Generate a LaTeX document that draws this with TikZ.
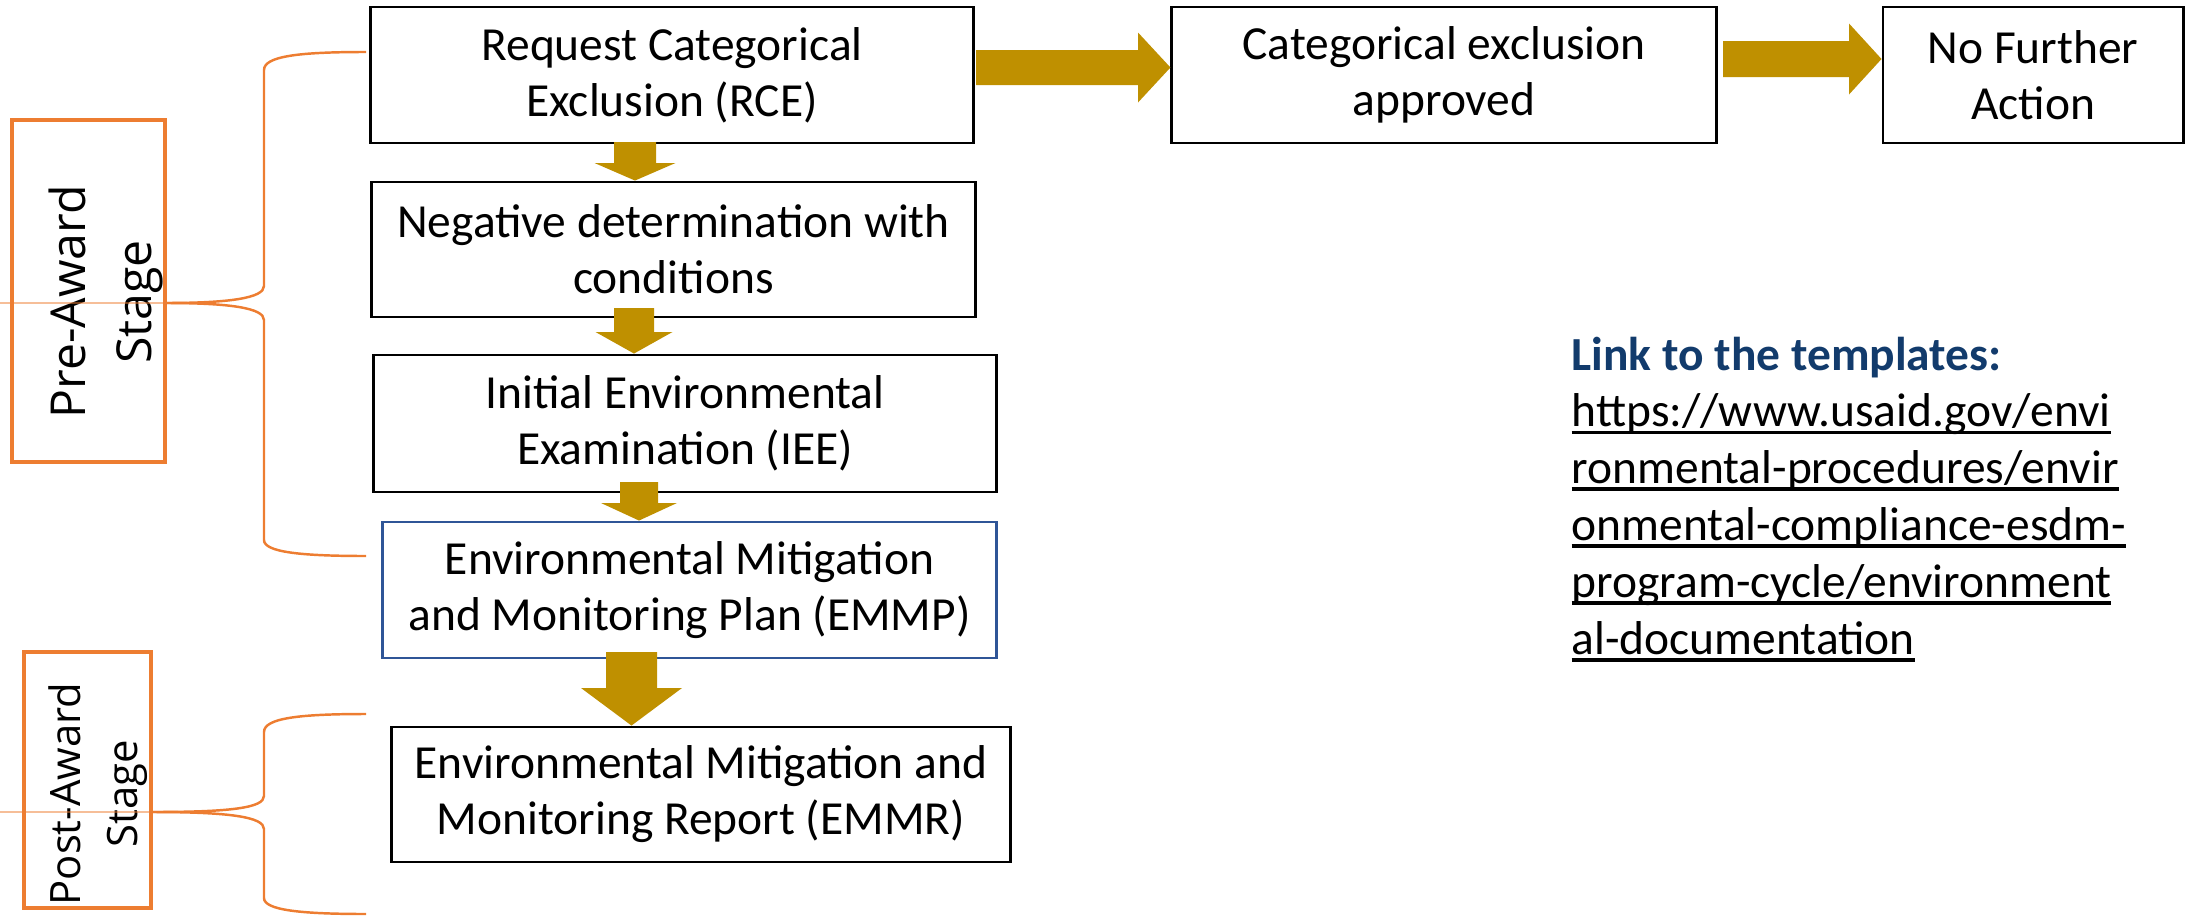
\documentclass[tikz,border=0pt]{standalone}
\usepackage{fontspec}
\setmainfont{Carlito}
\newfontfamily\stagefont{Open Sans}
\usetikzlibrary{calc}
\definecolor{gold}{HTML}{BF9000}
\definecolor{orng}{HTML}{ED7D31}
\definecolor{emblue}{HTML}{2F5597}
\definecolor{linkblue}{HTML}{123B6C}
\newcommand\ulink[1]{\setbox0=\hbox{#1}\rlap{\rule[-2.1pt]{\wd0}{1.1pt}}\box0}
% vertical block arrow: x centre, shaft half, head half, y top, y head start, target node
\newcommand\vblock[6]{\fill[gold] (#1-#2,#4) -- (#1+#2,#4) -- (#1+#2,#5) -- (#1+#3,#5) -- (#1,0 |- #6.north) -- (#1-#3,#5) -- (#1-#2,#5) -- cycle;}
% horizontal block arrow: y centre, shaft half, head half, x start, x head start, target node
\newcommand\hblock[6]{\fill[gold] (#4,#1-#2) -- (#5,#1-#2) -- (#5,#1-#3) -- (#6.west |- 0,#1) -- (#5,#1+#3) -- (#5,#1+#2) -- (#4,#1+#2) -- cycle;}
\begin{document}
\begin{tikzpicture}[x=0.01cm,y=-0.01cm,
  box/.style={draw=black, line width=0.8pt, fill=white, align=center, inner sep=0pt,
    font=\fontsize{13.5}{15.9}\selectfont},
  stagebox/.style={draw=orng, line width=1.2pt, inner sep=0pt},
  brace/.style={draw=orng, line width=0.7pt},
  stagetext/.style={rotate=90, align=center, inner sep=0pt}]
\useasboundingbox (0,0) rectangle (2188,915);

% process boxes
\node[box, minimum width=6.02cm, minimum height=1.36cm] (rce) at (672,75) {Request Categorical\\Exclusion (RCE)};
\node[box, minimum width=6.03cm, minimum height=1.35cm] (neg) at (673.5,249.5) {Negative determination with\\conditions};
\node[box, minimum width=6.22cm, minimum height=1.37cm] (iee) at (685,423.5) {Initial Environmental\\Examination (IEE)};
\node[box, draw=emblue, minimum width=6.13cm, minimum height=1.36cm] (emmp) at (689.5,590) {Environmental Mitigation\\and Monitoring Plan (EMMP)};
\node[box, minimum width=6.18cm, minimum height=1.35cm] (emmr) at (701,794.5) {Environmental Mitigation and\\Monitoring Report (EMMR)};
\node[box, minimum width=5.44cm, minimum height=1.36cm] (cat) at (1444,75) {Categorical exclusion\\approved};
\node[box, minimum width=3.00cm, minimum height=1.36cm] (nfa) at (2033,75) {No Further\\Action};

% block arrows
\vblock{635}{21}{40.5}{142}{163}{neg}
\vblock{634}{20}{38.5}{308}{332}{iee}
\vblock{639}{19}{38}{482}{503}{emmp}
\vblock{631.5}{25.5}{50.5}{652}{688}{emmr}
\hblock{67.5}{17.5}{35}{976}{1138}{cat}
\hblock{59}{18}{35.5}{1723}{1849}{nfa}

% stage boxes
\node[stagebox, minimum width=1.53cm, minimum height=3.42cm] (prebox) at (88.5,291) {};
\node[stagebox, minimum width=1.27cm, minimum height=2.56cm] (postbox) at (87.5,780) {};
\node[stagetext, font=\stagefont\fontsize{13.7}{18.8}\selectfont] (pretext) at (106,302) {Pre-Award\\Stage};
\node[stagetext, font=\stagefont\fontsize{11.9}{16.4}\selectfont] (posttext) at (98,794) {Post-Award\\Stage};

% braces
\draw[orng, line width=0.5pt, opacity=0.5] (0,303) -- (165,303);
\draw[brace] (366,52) .. controls (300,52) and (264,56) .. (264,70) -- (264,286) .. controls (264,298) and (230,303) .. (165,303);
\draw[brace] (165,303) .. controls (230,303) and (264,308) .. (264,320) -- (264,540) .. controls (264,552) and (300,556) .. (366,556);
\draw[orng, line width=0.5pt, opacity=0.5] (0,812) -- (152,812);
\draw[brace] (366,714) .. controls (300,714) and (264,718) .. (264,732) -- (264,796) .. controls (264,808) and (230,812) .. (152,812);
\draw[brace] (152,812) .. controls (230,812) and (264,817) .. (264,829) -- (264,898) .. controls (264,910) and (300,914) .. (366,914);

% link text
\node[anchor=north west, inner sep=0pt, align=left, font=\fontsize{13.5}{16.2}\selectfont] (link) at (1571,336)
  {{\bfseries\color{linkblue}Link to the templates:}\\
   \ulink{https://www.usaid.gov/envi}\\
   \ulink{ronmental-procedures/envir}\\
   \ulink{onmental-compliance-esdm-}\\
   \ulink{program-cycle/environment}\\
   \ulink{al-documentation}};
\end{tikzpicture}
\end{document}
